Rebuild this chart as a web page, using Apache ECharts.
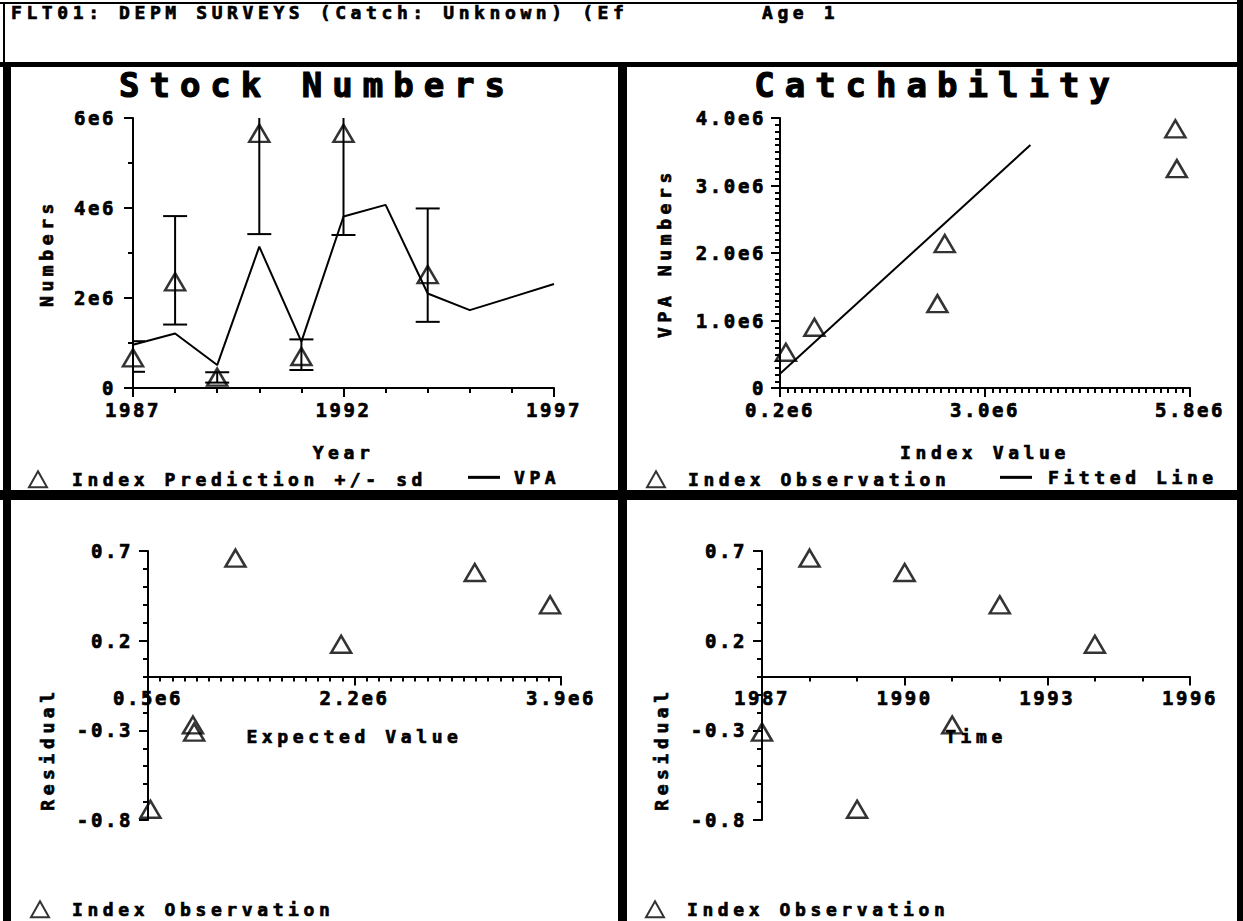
<!DOCTYPE html>
<html><head><meta charset="utf-8">
<script src="https://cdn.jsdelivr.net/npm/echarts@6/dist/echarts.min.js"></script>
<style>html,body{margin:0;padding:0;background:#fff}#c{width:1243px;height:921px}</style>
</head><body><div id="c"></div>
<script>
// ---------- data ----------
const years = [1987, 1988, 1989, 1990, 1991, 1992, 1993, 1994, 1995, 1996, 1997];
const vpaNumbers = [0.96e6, 1.21e6, 0.51e6, 3.14e6, 1.03e6, 3.81e6, 4.07e6, 2.10e6, 1.73e6, 2.02e6, 2.31e6];

const indexYears = [1987, 1988, 1989, 1990, 1991, 1992, 1994];
const indexPrediction = [0.67e6, 2.36e6, 0.24e6, 5.66e6, 0.70e6, 5.66e6, 2.52e6];
const predLow = [0.36e6, 1.41e6, 0.12e6, 3.42e6, 0.40e6, 3.40e6, 1.47e6];
const predHigh = [1.04e6, 3.82e6, 0.35e6, 9.40e6, 1.08e6, 9.40e6, 3.99e6];

const catchIndex = [0.28e6, 0.67e6, 2.45e6, 2.35e6, 5.60e6, 5.62e6];
const catchVpa = [0.53e6, 0.90e6, 2.14e6, 1.25e6, 3.84e6, 3.25e6];
const fittedIndex = [0.20e6, 3.62e6];
const fittedVpa = [0.21e6, 3.60e6];

const residYears = [1987, 1988, 1989, 1990, 1991, 1992, 1994];
const expectedValue = [0.88e6, 1.22e6, 0.52e6, 3.19e6, 0.87e6, 3.81e6, 2.09e6];
const residuals = [-0.31, 0.66, -0.74, 0.58, -0.27, 0.40, 0.18];

// tick labels
const stockXLabels = ['1987', '1992', '1997'];
const stockYLabels = ['0', '2e6', '4e6', '6e6'];
const catchXLabels = ['0.2e6', '3.0e6', '5.8e6'];
const catchYLabels = ['0', '1.0e6', '2.0e6', '3.0e6', '4.0e6'];
const expXLabels = ['0.5e6', '2.2e6', '3.9e6'];
const timeXLabels = ['1987', '1990', '1993', '1996'];
const residYLabels = ['-0.8', '-0.3', '0.2', '0.7'];

// ---------- chart ----------
const FONT = '"DejaVu Sans Mono", "Liberation Mono", monospace';
const chart = echarts.init(document.getElementById('c'), null, { renderer: 'svg' });

function pair(xs, ys) { return xs.map((x, i) => [x, ys[i]]); }
function labeler(labels, min, step) {
  return v => labels[Math.round((v - min) / step)] ?? '';
}
const heavy = { textBorderColor: '#000', textBorderWidth: 0.7 };
function axis(gridIndex, min, max, interval, minorSplit, labels, extra, labelMargin) {
  return Object.assign({
    type: 'value', gridIndex, min, max, interval,
    splitLine: { show: false },
    axisLine: { show: true, onZero: false, lineStyle: { color: '#000', width: 2 } },
    axisTick: { show: true, length: 9, lineStyle: { color: '#000', width: 2 } },
    minorTick: { show: true, splitNumber: minorSplit, length: 5, lineStyle: { color: '#000', width: 2 } },
    minorSplitLine: { show: false },
    axisLabel: Object.assign({
      color: '#000', fontFamily: FONT, fontWeight: 'bold', fontSize: 19, margin: labelMargin,
      showMinLabel: true, showMaxLabel: true, hideOverlap: false,
      formatter: labeler(labels, min, interval)
    }, heavy),
    nameTextStyle: Object.assign({ color: '#000', fontFamily: FONT, fontWeight: 'bold', fontSize: 18 }, heavy)
  }, extra || {});
}

// residual panels: x axis crosses the y axis at residual 0
const residMin = -0.8, residMax = 0.7, residGridHeight = 269;
const zeroOffset = -residGridHeight * (0 - residMin) / (residMax - residMin);

const legendText = pad => Object.assign({ color: '#000', fontFamily: FONT, fontWeight: 'bold', fontSize: 18, padding: [0, 0, 0, pad] }, heavy);
function legend(name, left, top, w, h, pad, icon) {
  const item = icon ? { name, icon } : name;
  return { data: [item], left, top, padding: 0, itemWidth: w, itemHeight: h, selectedMode: false, textStyle: legendText(pad) };
}

const hollow = { color: 'rgba(0,0,0,0)', borderColor: '#000', borderWidth: 2.5 };

function rect(x, y, w, h) { return { type: 'rect', shape: { x, y, width: w, height: h }, style: { fill: '#000' }, silent: true }; }
function txt(text, x, y, size, align, rot, lw) {
  return { type: 'text', x, y, rotation: rot || 0, silent: true,
    style: { text, fill: '#000', stroke: '#000', lineWidth: lw || 0.7, font: 'bold ' + size + 'px ' + FONT, align: align || 'left', verticalAlign: 'middle' } };
}

const option = {
  animation: false,
  backgroundColor: '#fff',
  grid: [
    { left: 133, top: 118, width: 421, height: 270, outerBoundsMode: 'none' },
    { left: 780, top: 118, width: 410, height: 270, outerBoundsMode: 'none' },
    { left: 148, top: 551, width: 413, height: residGridHeight, outerBoundsMode: 'none' },
    { left: 762, top: 551, width: 428, height: residGridHeight, outerBoundsMode: 'none' }
  ],
  xAxis: [
    axis(0, 1987, 1997, 5, 5, stockXLabels, { name: 'Year', nameLocation: 'middle', nameGap: 55 }, 12),
    axis(1, 0.2e6, 5.8e6, 2.8e6, 28, catchXLabels, { name: 'Index Value', nameLocation: 'middle', nameGap: 55 }, 12),
    axis(2, 0.5e6, 3.9e6, 1.7e6, 17, expXLabels, { name: 'Expected Value', nameLocation: 'middle', nameGap: 51, offset: zeroOffset }, 12),
    axis(3, 1987, 1996, 3, 3, timeXLabels, { name: 'Time', nameLocation: 'middle', nameGap: 51, offset: zeroOffset }, 12)
  ],
  yAxis: [
    axis(0, 0, 6e6, 2e6, 2, stockYLabels, { name: 'Numbers', nameLocation: 'middle', nameGap: 78 }, 17),
    axis(1, 0, 4e6, 1e6, 10, catchYLabels, { name: 'VPA Numbers', nameLocation: 'middle', nameGap: 107 }, 14),
    axis(2, residMin, residMax, 0.5, 5, residYLabels, {}, 15),
    axis(3, residMin, residMax, 0.5, 5, residYLabels, {}, 15)
  ],
  legend: [
    legend('Index Prediction +/- sd', 28, 470, 18, 16, 20),
    legend('VPA', 468, 468, 32, 3, 9, 'rect'),
    legend('Index Observation', 646, 470, 18, 16, 18),
    legend('Fitted Line', 1000, 468, 32, 3, 11, 'rect'),
    legend('Index Observation', 30, 900, 18, 16, 18),
    legend('Index Observation', 645, 900, 18, 16, 18)
  ],
  series: [
    {
      name: 'sd', type: 'custom', xAxisIndex: 0, yAxisIndex: 0, clip: true,
      encode: { x: 0, y: [1, 2] },
      data: indexYears.map((y, i) => [y, predLow[i], predHigh[i]]),
      renderItem: (params, api) => {
        const lo = api.coord([api.value(0), api.value(1)]);
        const hi = api.coord([api.value(0), api.value(2)]);
        const hw = 12;
        const st = { stroke: '#000', lineWidth: 2 };
        return { type: 'group', children: [
          { type: 'line', shape: { x1: lo[0], y1: lo[1], x2: hi[0], y2: hi[1] }, style: st },
          { type: 'line', shape: { x1: lo[0] - hw, y1: lo[1], x2: lo[0] + hw, y2: lo[1] }, style: st },
          { type: 'line', shape: { x1: hi[0] - hw, y1: hi[1], x2: hi[0] + hw, y2: hi[1] }, style: st }
        ] };
      }
    },
    { name: 'VPA', type: 'line', xAxisIndex: 0, yAxisIndex: 0, symbol: 'none',
      lineStyle: { color: '#000', width: 2 }, itemStyle: { color: '#000' }, data: pair(years, vpaNumbers) },
    { name: 'Index Prediction +/- sd', type: 'scatter', xAxisIndex: 0, yAxisIndex: 0, symbol: 'triangle',
      symbolSize: [20, 17], itemStyle: hollow, data: pair(indexYears, indexPrediction) },
    { name: 'Index Observation', type: 'scatter', xAxisIndex: 1, yAxisIndex: 1, symbol: 'triangle',
      symbolSize: [20, 17], itemStyle: hollow, data: pair(catchIndex, catchVpa) },
    { name: 'Fitted Line', type: 'line', xAxisIndex: 1, yAxisIndex: 1, symbol: 'none',
      lineStyle: { color: '#000', width: 2 }, itemStyle: { color: '#000' }, data: pair(fittedIndex, fittedVpa) },
    { name: 'Index Observation', type: 'scatter', xAxisIndex: 2, yAxisIndex: 2, symbol: 'triangle',
      symbolSize: [20, 17], itemStyle: hollow, data: pair(expectedValue, residuals) },
    { name: 'Index Observation', type: 'scatter', xAxisIndex: 3, yAxisIndex: 3, symbol: 'triangle',
      symbolSize: [20, 17], itemStyle: hollow, data: pair(residYears, residuals) }
  ],
  graphic: [
    rect(0, 2, 1243, 2),
    rect(3, 2, 2, 62),
    rect(0, 62, 1243, 5),
    rect(3, 62, 8, 859),
    rect(1237, 0, 6, 921),
    rect(618, 62, 9, 859),
    rect(0, 490, 1243, 10),
    txt('FLT01: DEPM SURVEYS (Catch: Unknown) (Ef', 11, 12, 18),
    txt('Age 1', 762, 12, 18),
    txt('Stock Numbers', 317, 85, 34, 'center', 0, 1.2),
    txt('Catchability', 937, 85, 34, 'center', 0, 1.2),
    txt('Residual', 47, 749, 18, 'center', Math.PI / 2),
    txt('Residual', 661, 749, 18, 'center', Math.PI / 2)
  ]
};
chart.setOption(option);

// widen glyph spacing to match the wide bitmap font of the original
const spacing = { 34: 10, 19: 2.6, 18: 4.6 };
document.querySelectorAll('#c text').forEach(t => {
  const fs = Math.round(parseFloat(getComputedStyle(t).fontSize));
  if (spacing[fs] != null) t.style.letterSpacing = spacing[fs] + 'px';
});
</script></body></html>
